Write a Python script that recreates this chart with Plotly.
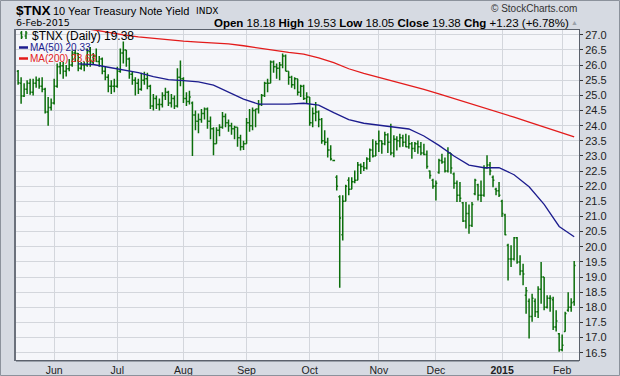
import plotly.graph_objects as go
import pandas as pd

# ---------------- data ----------------
holidays = ["2014-05-26", "2014-07-04", "2014-09-01", "2014-11-27",
            "2014-12-25", "2015-01-01", "2015-01-19"]
dates = [d for d in pd.bdate_range("2014-05-14", "2015-02-06")
         if d.strftime("%Y-%m-%d") not in holidays]

opens = [25.80, 25.40, 24.98, 25.20, 25.40, 25.10, 25.40, 25.50, 25.30, 25.20,
         24.45, 24.60, 24.75, 25.30, 25.95, 25.98, 25.80, 25.88, 26.00, 26.40,
         26.38, 25.90, 26.00, 26.00, 26.45, 26.10, 26.30, 26.12, 26.20, 25.80,
         25.60, 25.30, 25.30, 25.30, 25.80, 26.40, 26.50, 26.20, 25.70, 25.50,
         25.40, 25.20, 25.50, 25.55, 25.30, 24.65, 24.90, 24.70, 24.70, 25.00,
         25.10, 24.75, 24.90, 24.65, 25.60, 25.55, 24.90, 24.80, 24.75, 24.35,
         24.15, 24.20, 24.40, 24.55, 24.15, 23.90, 23.40, 23.85, 23.95, 24.30,
         24.10, 24.00, 23.90, 23.95, 23.60, 23.30, 23.40, 24.10, 24.00, 24.50,
         24.55, 24.70, 25.00, 25.40, 25.40, 26.10, 25.95, 25.90, 26.00, 26.30,
         25.80, 25.60, 25.35, 25.55, 25.10, 25.30, 24.90, 24.95, 24.10, 24.40,
         24.45, 24.20, 23.50, 23.45, 23.20, 22.85, 22.30, 21.65, 20.40, 21.50,
         22.20, 21.90, 22.15, 22.20, 22.70, 22.65, 22.60, 22.90, 23.20, 23.00,
         23.40, 23.50, 23.40, 23.70, 23.45, 23.10, 23.55, 23.50, 23.60, 23.45,
         23.30, 23.40, 23.25, 23.40, 23.30, 23.10, 23.05, 22.50, 22.20, 22.00,
         22.45, 22.85, 22.80, 22.50, 23.10, 22.40, 22.10, 21.70, 21.45, 20.85,
         21.10, 20.70, 21.75, 22.05, 21.70, 21.70, 22.60, 22.70, 22.30, 21.90,
         21.85, 21.50, 21.05, 20.05, 19.60, 19.60, 20.30, 19.50, 19.20, 18.40,
         18.20, 17.70, 18.20, 17.85, 18.60, 19.00, 18.00, 18.30, 18.25, 17.35,
         17.13, 16.60, 17.20, 17.90, 18.00, 18.18]
highs = [25.84, 25.60, 25.40, 25.50, 25.55, 25.55, 25.62, 25.58, 25.60, 25.25,
         24.95, 24.90, 25.55, 26.05, 26.10, 26.10, 26.00, 26.20, 26.48, 26.50,
         26.40, 26.10, 26.12, 26.55, 26.60, 26.40, 26.55, 26.30, 26.25, 25.95,
         25.70, 25.50, 25.55, 25.95, 26.55, 26.78, 26.50, 26.25, 25.80, 25.60,
         25.55, 25.75, 25.78, 25.75, 25.35, 25.05, 25.00, 24.90, 25.10, 25.25,
         25.15, 25.05, 25.00, 25.90, 26.15, 25.60, 25.10, 25.15, 24.80, 24.50,
         24.40, 24.55, 24.60, 24.60, 24.30, 23.95, 23.95, 24.05, 24.45, 24.40,
         24.20, 24.10, 24.00, 23.95, 23.70, 23.50, 24.25, 24.55, 24.60, 24.55,
         24.85, 25.05, 25.45, 25.55, 26.15, 26.15, 26.05, 26.10, 26.38, 26.35,
         25.80, 25.65, 25.60, 25.55, 25.35, 25.35, 25.10, 24.95, 24.60, 24.78,
         24.50, 24.25, 23.85, 23.60, 23.35, 22.85, 22.36, 21.70, 21.70, 22.05,
         22.30, 22.30, 22.52, 22.80, 22.75, 22.80, 22.96, 23.25, 23.55, 23.50,
         23.84, 23.51, 23.80, 23.75, 24.06, 23.68, 23.65, 23.73, 23.70, 23.73,
         23.68, 23.46, 23.46, 23.51, 23.46, 23.40, 23.18, 22.52, 22.25, 22.19,
         22.91, 23.07, 22.95, 23.29, 23.10, 22.45, 22.19, 22.14, 21.48, 21.48,
         21.40, 21.48, 22.25, 22.08, 22.19, 22.69, 23.02, 22.80, 22.35, 21.95,
         22.14, 21.55, 21.09, 20.10, 20.05, 20.32, 20.32, 19.72, 19.44, 18.67,
         18.29, 18.45, 18.29, 18.70, 19.50, 19.00, 18.40, 18.40, 18.35, 17.90,
         17.15, 17.10, 17.85, 18.50, 18.30, 19.53]
lows = [25.35, 24.72, 24.95, 25.05, 25.02, 25.00, 25.25, 25.22, 25.10, 24.40,
        24.00, 24.50, 24.70, 25.25, 25.70, 25.55, 25.62, 25.80, 25.95, 26.10,
        25.80, 25.85, 25.80, 25.95, 25.95, 26.00, 26.10, 25.95, 25.70, 25.50,
        25.10, 25.05, 25.10, 25.25, 25.75, 26.05, 25.95, 25.55, 25.35, 25.00,
        25.05, 25.15, 25.35, 25.20, 24.55, 24.50, 24.55, 24.50, 24.60, 24.85,
        24.65, 24.60, 24.55, 24.60, 25.30, 24.75, 24.65, 24.70, 23.00, 23.85,
        23.75, 24.10, 24.20, 23.90, 23.55, 23.02, 23.40, 23.65, 23.90, 23.95,
        23.80, 23.70, 23.55, 23.30, 23.18, 23.20, 23.40, 23.80, 23.85, 23.95,
        24.40, 24.65, 24.95, 25.10, 25.40, 25.75, 25.55, 25.50, 25.90, 25.80,
        25.35, 25.25, 25.20, 25.00, 24.95, 24.85, 24.75, 24.00, 23.95, 24.15,
        23.95, 23.40, 23.35, 22.95, 22.85, 22.85, 21.86, 18.65, 20.21, 21.50,
        21.70, 21.90, 22.10, 22.20, 22.40, 22.50, 22.55, 22.80, 22.95, 23.00,
        23.13, 23.07, 23.35, 23.10, 23.02, 22.96, 23.18, 23.29, 23.30, 23.29,
        23.24, 22.91, 23.13, 23.07, 23.02, 23.02, 22.58, 22.25, 21.92, 21.53,
        22.41, 22.74, 22.45, 22.45, 22.41, 21.92, 21.48, 21.48, 20.82, 20.60,
        20.43, 20.65, 21.70, 21.53, 21.48, 21.65, 22.58, 22.36, 21.97, 21.70,
        21.64, 20.98, 20.38, 18.89, 19.33, 19.55, 19.44, 19.06, 18.73, 17.79,
        16.97, 17.52, 17.68, 17.65, 18.12, 17.90, 17.96, 17.85, 17.25, 17.20,
        16.53, 16.55, 17.19, 17.85, 17.85, 18.05]
closes = [25.42, 24.98, 25.20, 25.40, 25.10, 25.40, 25.50, 25.30, 25.20, 24.45,
          24.60, 24.75, 25.30, 25.95, 25.98, 25.80, 25.88, 26.00, 26.40, 26.38,
          25.90, 26.00, 26.00, 26.45, 26.10, 26.30, 26.12, 26.20, 25.80, 25.60,
          25.30, 25.30, 25.30, 25.80, 26.40, 26.50, 26.20, 25.70, 25.50, 25.40,
          25.20, 25.50, 25.55, 25.30, 24.65, 24.90, 24.70, 24.70, 25.00, 25.10,
          24.75, 24.90, 24.65, 25.60, 25.55, 24.90, 24.80, 24.95, 24.35, 24.15,
          24.20, 24.40, 24.55, 24.15, 23.90, 23.40, 23.85, 23.95, 24.30, 24.10,
          24.00, 23.90, 23.95, 23.60, 23.30, 23.40, 24.10, 24.00, 24.50, 24.55,
          24.70, 25.00, 25.40, 25.40, 26.10, 25.95, 25.90, 26.00, 26.30, 25.80,
          25.60, 25.35, 25.55, 25.10, 25.30, 24.90, 24.95, 24.10, 24.40, 24.45,
          24.20, 23.50, 23.45, 23.20, 22.90, 22.85, 22.00, 20.95, 21.50, 22.00,
          21.90, 22.15, 22.20, 22.70, 22.65, 22.60, 22.90, 23.20, 23.00, 23.40,
          23.50, 23.40, 23.70, 23.45, 23.10, 23.55, 23.50, 23.60, 23.45, 23.30,
          23.40, 23.25, 23.40, 23.30, 23.10, 23.05, 22.65, 22.35, 22.00, 22.10,
          22.85, 22.80, 22.50, 23.10, 22.60, 22.10, 21.70, 21.60, 20.85, 21.10,
          20.70, 21.40, 22.20, 21.70, 21.70, 22.60, 22.70, 22.50, 22.20, 21.85,
          21.70, 21.10, 20.40, 19.60, 19.60, 20.30, 19.50, 19.20, 19.10, 18.55,
          17.70, 18.30, 17.85, 18.60, 19.00, 18.00, 18.30, 18.30, 17.35, 17.55,
          16.60, 16.75, 17.80, 18.00, 18.15, 19.38]

# moving averages sampled every 5 trading days, starting at bar 20
ma_start, ma_step = 20, 5
ma50 = [26.04, 26.02, 25.93, 25.85, 25.75, 25.62, 25.52, 25.49, 25.45, 25.34,
        25.10, 24.88, 24.71, 24.70, 24.71, 24.74, 24.68, 24.43, 24.20, 24.08,
        24.01, 23.95, 23.89, 23.66, 23.35, 23.00, 22.70, 22.61, 22.61, 22.38,
        21.98, 21.40, 20.67, 20.33]
ma200 = [27.25, 27.16, 27.09, 27.00, 26.93, 26.88, 26.83, 26.79, 26.76, 26.73,
         26.70, 26.64, 26.56, 26.48, 26.42, 26.36, 26.24, 26.08, 25.88, 25.73,
         25.60, 25.48, 25.35, 25.20, 25.05, 24.90, 24.74, 24.59, 24.44, 24.28,
         24.12, 23.95, 23.80, 23.63]

month_labels = ["Jun", "Jul", "Aug", "Sep", "Oct", "Nov", "Dec", "<b>2015</b>", "Feb"]
y_ticks = [16.5 + 0.5 * k for k in range(22)]

# ---------------- layout geometry ----------------
W, H = 620, 376
ML, MR, MT, MB = 16, 41, 30, 16
PW, PH = W - ML - MR, H - MT - MB

def pxx(x):
    return (x - ML) / PW

def pxy(y):
    return (H - MB - y) / PH

idx = list(range(len(dates)))
month_pos = []
prev = None
for i, d in enumerate(dates):
    if prev is not None and d.month != prev:
        month_pos.append(i)
    prev = d.month
ma_x = [ma_start + ma_step * k for k in range(len(ma50))]

GREEN = "#0b6e0b"
NAVY = "#1c1c8e"
RED = "#e31b1b"
FONT = "Liberation Sans, Arial, sans-serif"
VFONT = "DejaVu Sans, Verdana, sans-serif"

fig = go.Figure()
fig.add_trace(go.Ohlc(
    x=idx, open=opens, high=highs, low=lows, close=closes,
    increasing=dict(line=dict(color=GREEN, width=1.5)),
    decreasing=dict(line=dict(color=GREEN, width=1.5)),
    tickwidth=0.45, showlegend=False, hoverinfo="skip"))
fig.add_trace(go.Scatter(x=ma_x, y=ma200, mode="lines",
                         line=dict(color=RED, width=1.3), showlegend=False, hoverinfo="skip"))
fig.add_trace(go.Scatter(x=ma_x, y=ma50, mode="lines",
                         line=dict(color=NAVY, width=1.3), showlegend=False, hoverinfo="skip"))

ann = []
def text(x, y, s, size, color="#000", family=FONT, anchor="left"):
    ann.append(dict(x=pxx(x), y=pxy(y), xref="paper", yref="paper", text=s,
                    showarrow=False, xanchor=anchor, yanchor="middle", borderpad=0,
                    font=dict(size=size, color=color, family=family)))

text(15, 10, "<b>$TNX</b>", 13.5)
text(52, 10.5, "10 Year Treasury Note Yield", 11)
text(195, 11, "INDX", 9, family=VFONT)
text(15, 23, "6-Feb-2015", 9.5, family=VFONT)
text(578, 8, "© StockCharts.com", 10, color="#333", anchor="right")
hdr = ("<b>Open</b> 18.18 <b>High</b> 19.53 <b>Low</b> 18.05 "
       "<b>Close</b> 19.38 <b>Chg</b> +1.23 (+6.78%)")
text(570, 23, hdr, 11.5, anchor="right")
text(579, 22.5, "▲", 7, color="#9aa0a8", anchor="right")
# legend inside plot
text(31, 35.5, "$TNX (Daily) 19.38", 12)
text(29, 47.5, "MA(50) 20.33", 10, color=NAVY)
text(29, 58.5, "MA(200) 23.63", 10, color=RED)

shapes = []
def pline(x0, y0, x1, y1, color, width):
    shapes.append(dict(type="line", xref="paper", yref="paper",
                       x0=pxx(x0), y0=pxy(y0), x1=pxx(x1), y1=pxy(y1),
                       line=dict(color=color, width=width)))
# legend symbols
pline(19, 47.5, 28, 47.5, NAVY, 2.5)
pline(19, 58.5, 28, 58.5, RED, 2.5)
pline(21.5, 31, 21.5, 39, GREEN, 1.5)
pline(20, 33, 21.5, 33, GREEN, 1.2)
pline(21.5, 37, 23, 37, GREEN, 1.2)
pline(26, 31, 26, 39, GREEN, 1.5)
pline(24.5, 36, 26, 36, GREEN, 1.2)
pline(26, 33, 27.5, 33, GREEN, 1.2)
# plot frame accents and outer border
pline(15, 29, 15, 361, "#6b717c", 2)
pline(16, 361.5, 579, 361.5, "#9aa0aa", 1)
shapes.append(dict(type="rect", xref="paper", yref="paper",
                   x0=pxx(0.5), y0=pxy(375.5), x1=pxx(619.5), y1=pxy(0.5),
                   line=dict(color="#8c929c", width=1)))

fig.update_layout(
    width=W, height=H, autosize=False,
    margin=dict(l=ML, r=MR, t=MT, b=MB, pad=0, autoexpand=False),
    paper_bgcolor="#d6dae2", plot_bgcolor="#f5f6fa",
    annotations=ann, shapes=shapes, showlegend=False,
    xaxis=dict(range=[-0.7, 186.6], tickmode="array", tickvals=month_pos,
               ticktext=month_labels, showgrid=True, gridcolor="#d3d6dc", gridwidth=1,
               zeroline=False, showline=True, linecolor="#5b616c", linewidth=1, mirror=True,
               ticks="", tickfont=dict(family=FONT, size=10.5, color="#222"),
               rangeslider=dict(visible=False), fixedrange=True, automargin=False),
    yaxis=dict(side="right", range=[16.26, 27.16], tickmode="array", tickvals=y_ticks,
               tickformat=".1f", showgrid=True, gridcolor="#d3d6dc", gridwidth=1,
               zeroline=False, showline=True, linecolor="#5b616c", linewidth=1, mirror=True,
               ticks="outside", ticklen=3, tickcolor="#333",
               tickfont=dict(family=FONT, size=11, color="#222"), fixedrange=True,
               automargin=False),
)

fig.write_html("out.html", config={"displayModeBar": False},
               post_script="document.body.style.margin='0px';document.body.style.padding='0px';")
